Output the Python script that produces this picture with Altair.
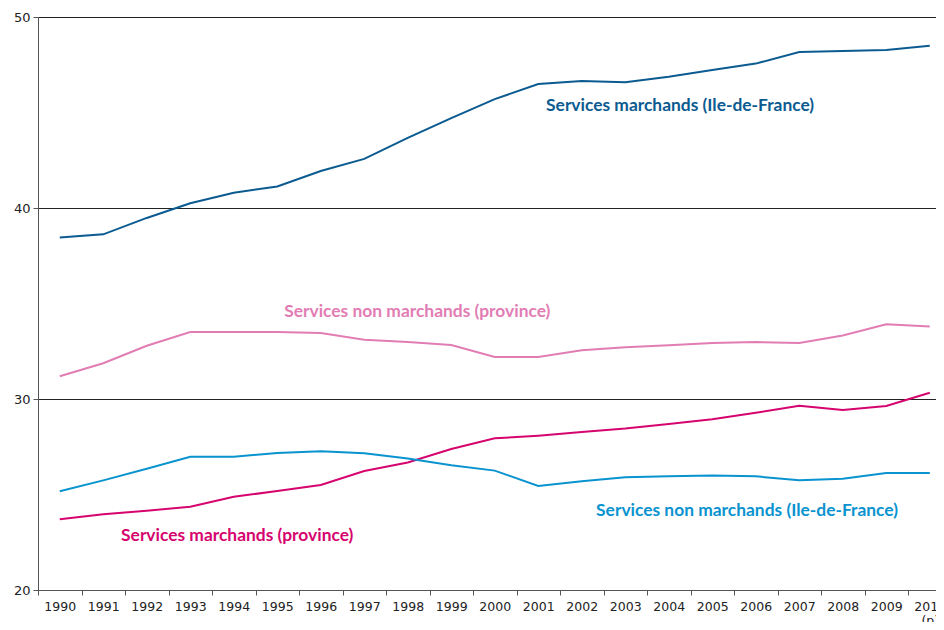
import altair as alt
import pandas as pd

years = list(range(1990, 2011))

series_names = [
    "Services marchands (Ile-de-France)",
    "Services non marchands (province)",
    "Services marchands (province)",
    "Services non marchands (Ile-de-France)",
]

marchands_idf = [38.45, 38.62, 39.48, 40.25, 40.8, 41.13, 41.94, 42.57, 43.67, 44.71,
                 45.7, 46.49, 46.65, 46.58, 46.87, 47.23, 47.56, 48.17, 48.22, 48.27, 48.5]
non_marchands_prov = [31.19, 31.87, 32.79, 33.51, 33.51, 33.51, 33.46, 33.1, 32.98, 32.83,
                      32.2, 32.2, 32.55, 32.71, 32.81, 32.93, 32.98, 32.93, 33.33, 33.91, 33.79]
marchands_prov = [23.7, 23.96, 24.15, 24.36, 24.88, 25.18, 25.5, 26.23, 26.68, 27.38,
                  27.94, 28.08, 28.27, 28.45, 28.69, 28.94, 29.28, 29.65, 29.42, 29.63, 30.33]
non_marchands_idf = [25.17, 25.74, 26.35, 26.98, 26.98, 27.17, 27.26, 27.16, 26.89, 26.53,
                     26.25, 25.45, 25.69, 25.9, 25.95, 26.0, 25.95, 25.74, 25.83, 26.13, 26.13]

colors = ["#0b5b91", "#e27db4", "#d6046e", "#0993cf"]

# annotation anchors (year, value) for the series labels
label_x = [2001.18, 1995.16, 1991.41, 2002.33]
label_y = [45.35, 34.56, 22.83, 24.13]

tick_positions = [y - 0.5 for y in years]

rows = []
for name, vals in zip(series_names, [marchands_idf, non_marchands_prov, marchands_prov, non_marchands_idf]):
    for yr, v in zip(years, vals):
        rows.append({"serie": name, "annee": yr, "valeur": v})
df = pd.DataFrame(rows)
labels_df = pd.DataFrame({"serie": series_names, "x": label_x, "y": label_y})

x_scale = alt.Scale(domain=[1989.5, 1989.5 + 898 / 43.5], nice=False, zero=False)
y_scale = alt.Scale(domain=[20, 50], nice=False, zero=False)
color_scale = alt.Scale(domain=series_names, range=colors)

lines = alt.Chart(df).mark_line(strokeWidth=2, clip=True).encode(
    x=alt.X("annee:Q", scale=x_scale, title=None,
            axis=alt.Axis(values=tick_positions,
                          labelExpr="datum.value > 2009 ? ['2010', '(p)'] : format(datum.value + 0.5, 'd')",
                          labelOffset=21.75, tickSize=5, tickColor="#555", domainColor="#555",
                          labelFont="DejaVu Sans", labelFontSize=12.5, labelColor="#222",
                          labelPadding=5, grid=False, labelFlush=False, labelOverlap=False,
                          labelBound=False)),
    y=alt.Y("valeur:Q", scale=y_scale, title=None,
            axis=alt.Axis(values=[20, 30, 40, 50], tickSize=5, tickColor="#555", domainColor="#555",
                          labelFont="DejaVu Sans", labelFontSize=13, labelColor="#222",
                          labelPadding=3, grid=True, gridColor="#222", gridWidth=1, gridOpacity=1)),
    color=alt.Color("serie:N", scale=color_scale, legend=None),
    detail="serie:N",
)

texts = alt.Chart(labels_df).mark_text(
    align="left", baseline="middle", font="Lato", fontWeight="bold", fontSize=17.4
).encode(
    x=alt.X("x:Q", scale=x_scale),
    y=alt.Y("y:Q", scale=y_scale),
    text="serie:N",
    color=alt.Color("serie:N", scale=color_scale, legend=None),
)

chart = alt.layer(lines, texts).properties(
    width=898, height=573,
    autosize=alt.AutoSizeParams(type="none"),
    padding={"left": 30, "top": 9, "right": 0, "bottom": 32},
).configure_view(stroke=None).configure(background="white")

chart.save("out.html", embed_options={"renderer": "svg", "actions": False})
